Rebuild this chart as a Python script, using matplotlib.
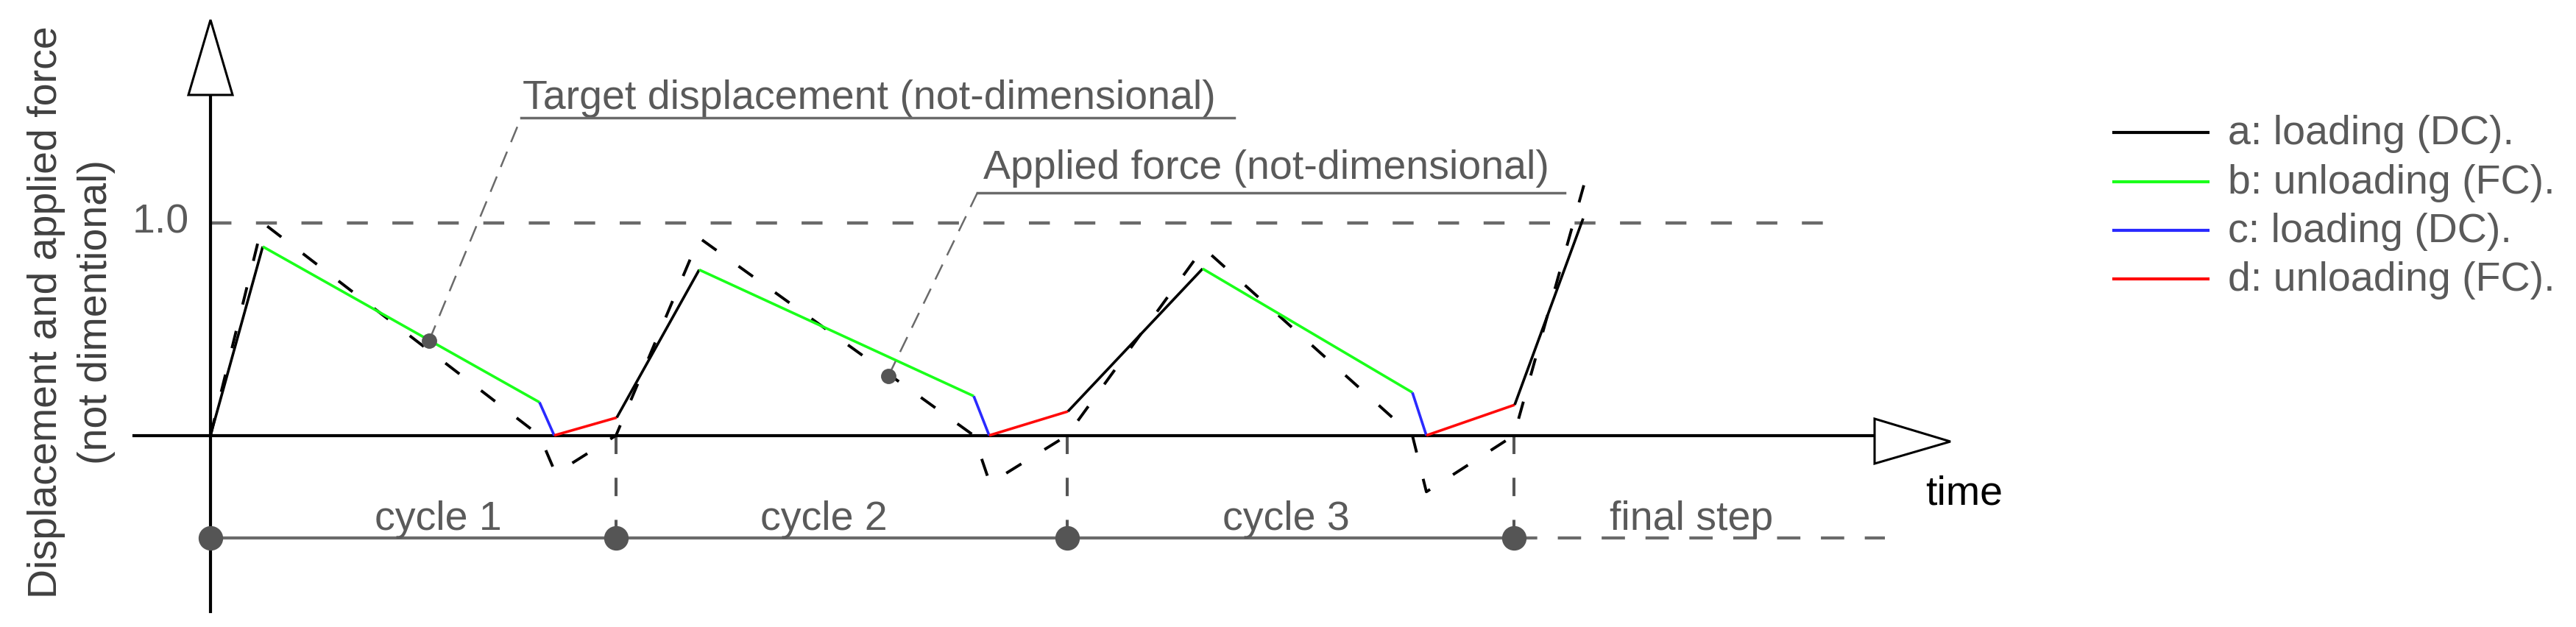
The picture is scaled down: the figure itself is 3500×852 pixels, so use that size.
import matplotlib
matplotlib.use('Agg')
import matplotlib.pyplot as plt
from matplotlib.patches import Polygon

plt.rcParams['font.family'] = ['Liberation Sans', 'DejaVu Sans']

# ---- data (time in arbitrary units, values not dimensional) ----
# target displacement: solid line, coloured by phase
disp_t = [0.00, 0.71, 4.47, 4.67, 5.52, 6.64, 10.37, 10.58, 11.65, 13.48, 16.33, 16.52, 17.72, 18.65]
disp_v = [0.000, 0.888, 0.156, 0.000, 0.084, 0.779, 0.185, 0.000, 0.113, 0.784, 0.202, 0.000, 0.144, 1.020]
disp_phase = ['a', 'b', 'c', 'd', 'a', 'b', 'c', 'd', 'a', 'b', 'c', 'd', 'a']

# applied force: dashed black line
force_t = [0.00, 0.71, 4.47, 4.69, 5.51, 6.64, 10.37, 10.59, 11.64, 13.49, 16.33, 16.52, 17.71, 18.66]
force_v = [0.000, 1.000, 0.000, -0.179, 0.000, 0.929, 0.000, -0.225, 0.000, 0.882, 0.000, -0.265, 0.000, 1.177]

cycle_edges = [0.00, 5.51, 11.64, 17.71]
final_end = 22.75
cycle_names = ['cycle 1', 'cycle 2', 'cycle 3', 'final step']
cycle_label_t = [3.09, 8.33, 14.61, 20.12]

phases = ['a', 'b', 'c', 'd']
phase_labels = ['a: loading (DC).', 'b: unloading (FC).', 'c: loading (DC).', 'd: unloading (FC).']
phase_colors = ['#000000', '#1aff1a', '#2a2aff', '#ff0a0a']

# annotation anchor points on the curves
target_dot = (2.97, 0.445)
force_dot = (9.21, 0.279)

GRAY = '#5a5a5a'
LGRAY = '#6a6a6a'
FS = 40

fig = plt.figure(figsize=(35, 8.52), dpi=100)
ax = fig.add_axes([0, 0, 1, 1])
# 100 px per time unit, 289 px per value unit, origin at pixel (286, 591.7)
ax.set_xlim(-2.86, 32.14)
ax.set_ylim(-0.9007, 2.0474)
ax.axis('off')

# axes with hollow arrow heads
ax.plot([0, 0], [-0.828, 1.601], color='k', lw=3.0, zorder=2)
ax.plot([-1.04, 22.61], [0, 0], color='k', lw=3.0, zorder=2)
ax.add_patch(Polygon([(0, 1.954), (-0.30, 1.601), (0.30, 1.601)], closed=True,
                     facecolor='white', edgecolor='k', lw=2.2, zorder=3))
ax.add_patch(Polygon([(22.61, 0.0785), (22.61, -0.1325), (23.64, -0.0287)], closed=True,
                     facecolor='white', edgecolor='k', lw=2.2, zorder=3))

# reference level 1.0
ax.plot([0, 22.0], [1.0, 1.0], color=LGRAY, lw=3.2, ls=(0, (6.4, 7.5)), zorder=1)
ax.text(-0.29, 1.0, '1.0', ha='right', va='center', fontsize=FS, color=GRAY)

# applied force
ax.plot(force_t, force_v, color='k', lw=2.8, ls=(0, (6.2, 9.5)), zorder=4)

# target displacement, one segment per phase
for i, ph in enumerate(disp_phase):
    c = phase_colors[phases.index(ph)]
    ax.plot(disp_t[i:i + 2], disp_v[i:i + 2], color=c, lw=2.6, zorder=5,
            solid_capstyle='butt')

# cycle bar
bar_v = -0.482
for t in cycle_edges[1:]:
    ax.plot([t, t], [0, bar_v], color='#555555', lw=2.9, ls=(0, (6.2, 8)), zorder=1)
ax.plot([cycle_edges[0], cycle_edges[-1]], [bar_v, bar_v], color=LGRAY, lw=3.0, zorder=2)
ax.plot([cycle_edges[-1], final_end], [bar_v, bar_v], color=LGRAY, lw=3.0,
        ls=(0, (7.6, 6.7)), zorder=2)
ax.plot(cycle_edges, [bar_v] * len(cycle_edges), 'o', color='#555555', ms=23, zorder=3)
for name, t in zip(cycle_names, cycle_label_t):
    ax.text(t, -0.444, name, ha='center', va='baseline', fontsize=FS, color=GRAY)

ax.text(23.83, -0.323, 'time', ha='center', va='baseline', fontsize=FS, color='k')

# leaders
def leader(dot, elbow, line_end, text_t, text_v, label):
    ax.plot([dot[0], elbow[0]], [dot[1], elbow[1]], color=LGRAY, lw=1.8,
            ls=(0, (9, 5.6)), zorder=6)
    ax.plot([elbow[0], line_end], [elbow[1], elbow[1]], color=LGRAY, lw=2.5, zorder=6)
    ax.plot(*dot, 'o', color='#555555', ms=14, zorder=7)
    ax.text(text_t, text_v, label, ha='left', va='baseline', fontsize=FS, color=GRAY)

leader(target_dot, (4.22, 1.494), 13.91, 4.24, 1.537, 'Target displacement (not-dimensional)')
leader(force_dot, (10.42, 1.141), 18.40, 10.50, 1.207, 'Applied force (not-dimensional)')

# y label
ax.text(-2.09, 0.580, 'Displacement and applied force', rotation=90, rotation_mode='anchor',
        ha='center', va='baseline', fontsize=FS, color='#404040')
ax.text(-1.41, 0.580, '(not dimentional)', rotation=90, rotation_mode='anchor',
        ha='center', va='baseline', fontsize=FS, color='#404040')

# legend
row_y = [180, 247, 313, 379]
for lab, c, y in zip(phase_labels, phase_colors, row_y):
    yf = 1 - y / 852
    ax.plot([2872 / 3500, 3000 / 3500], [yf, yf], color=c, lw=3.0, transform=ax.transAxes)
    ax.text(3027 / 3500, 1 - (y + 16) / 852, lab, ha='left', va='baseline', fontsize=FS,
            color=GRAY, transform=ax.transAxes)

fig.savefig('out.png', dpi=100)
